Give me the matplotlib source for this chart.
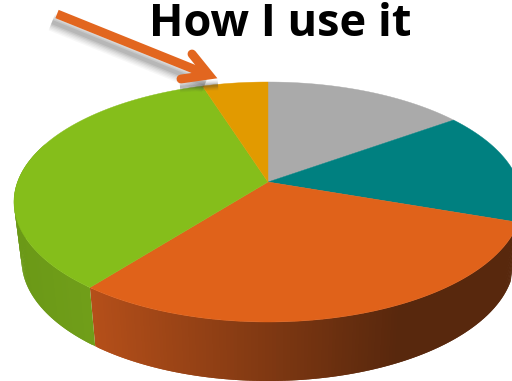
import numpy as np
import matplotlib
matplotlib.use("Agg")
import matplotlib.pyplot as plt
from matplotlib.collections import PolyCollection

# share of each slice, clockwise from 12 o'clock
labels = ["Grey", "Teal", "Orange", "Green", "Amber"]
values = [15.1, 15.2, 30.3, 34.5, 4.9]
colors = ["#aaaaaa", "#008080", "#e0621a", "#85be1b", "#e29a00"]

W, H = 512, 381
k = 1 / 6.0  # perspective strength


def project(theta, r, x0, y0, bx, by):
    u = r * np.sin(theta)
    v = r * np.cos(theta)
    d = 1 + k * v
    return x0 + bx * u / d, y0 - by * v / d


def top(theta, r=1.0):
    return project(theta, r, 268, 182, 250.5, 116.67)


def bottom(theta):
    return project(theta, 1.0, 268, 240, 243, 117.5)


fig = plt.figure(figsize=(W / 100, H / 100), dpi=100)
ax = fig.add_axes([0, 0, 1, 1])
ax.set_xlim(0, W)
ax.set_ylim(H, 0)
ax.axis("off")

edges = np.cumsum([0] + values) / sum(values) * 2 * np.pi

# side wall, strips coloured by x position
wall_green = ((0.42, 0.60, 0.09), (0.44, 0.62, 0.10))
wall_orange = ((0.71, 0.31, 0.10), (0.345, 0.155, 0.05))
for i in [2, 3]:
    th = np.linspace(edges[i], edges[i + 1], 160)
    th = th[np.cos(th) < 0.35]
    xt, yt = top(th)
    xb, yb = bottom(th)
    polys = []
    cols = []
    # strips overlap the next one so no seams show
    order = range(len(th) - 2) if i == 2 else range(len(th) - 3, -1, -1)
    for j in order:
        polys.append([(xt[j], yt[j]), (xt[j + 2], yt[j + 2]), (xb[j + 2], yb[j + 2]), (xb[j], yb[j])])
        xm = (xt[j] + xt[j + 1]) / 2
        if i == 2:
            f = np.clip((xm - 90) / 310, 0, 1)
            c0, c1 = wall_orange
        else:
            f = np.clip((xm - 20) / 70, 0, 1)
            c0, c1 = wall_green
        cols.append(tuple(np.array(c0) + f * (np.array(c1) - np.array(c0))))
    ax.add_collection(PolyCollection(polys, facecolors=cols, edgecolors="none", linewidths=0))

# top face
for i in range(len(values)):
    th = np.linspace(edges[i], edges[i + 1], 120)
    xs, ys = top(th)
    ax.fill(np.r_[268, xs], np.r_[182, ys], color=colors[i], lw=0.3)

# arrow shadow, soft
for w, a in [(13, 0.04), (11, 0.05), (9, 0.06), (7, 0.08), (5, 0.10), (3, 0.12)]:
    ax.plot([52, 205], [22, 84], color="#444444", lw=w, alpha=a, solid_capstyle="butt")
    ax.plot([180, 218], [87, 85], color="#444444", lw=w * 0.6, alpha=a, solid_capstyle="butt")

# arrow
arrow = "#e2661f"
ax.plot([57, 206], [14, 74], color=arrow, lw=6.4, solid_capstyle="butt")
ax.plot([192, 209, 181], [54, 75, 79], color=arrow, lw=6.4, solid_capstyle="round", solid_joinstyle="miter")

ax.text(280.5, 35.5, "How I use it", ha="center", va="baseline", fontsize=32.5,
        fontweight="bold", family="Open Sans", color="black")

fig.savefig("out.png", dpi=100)
